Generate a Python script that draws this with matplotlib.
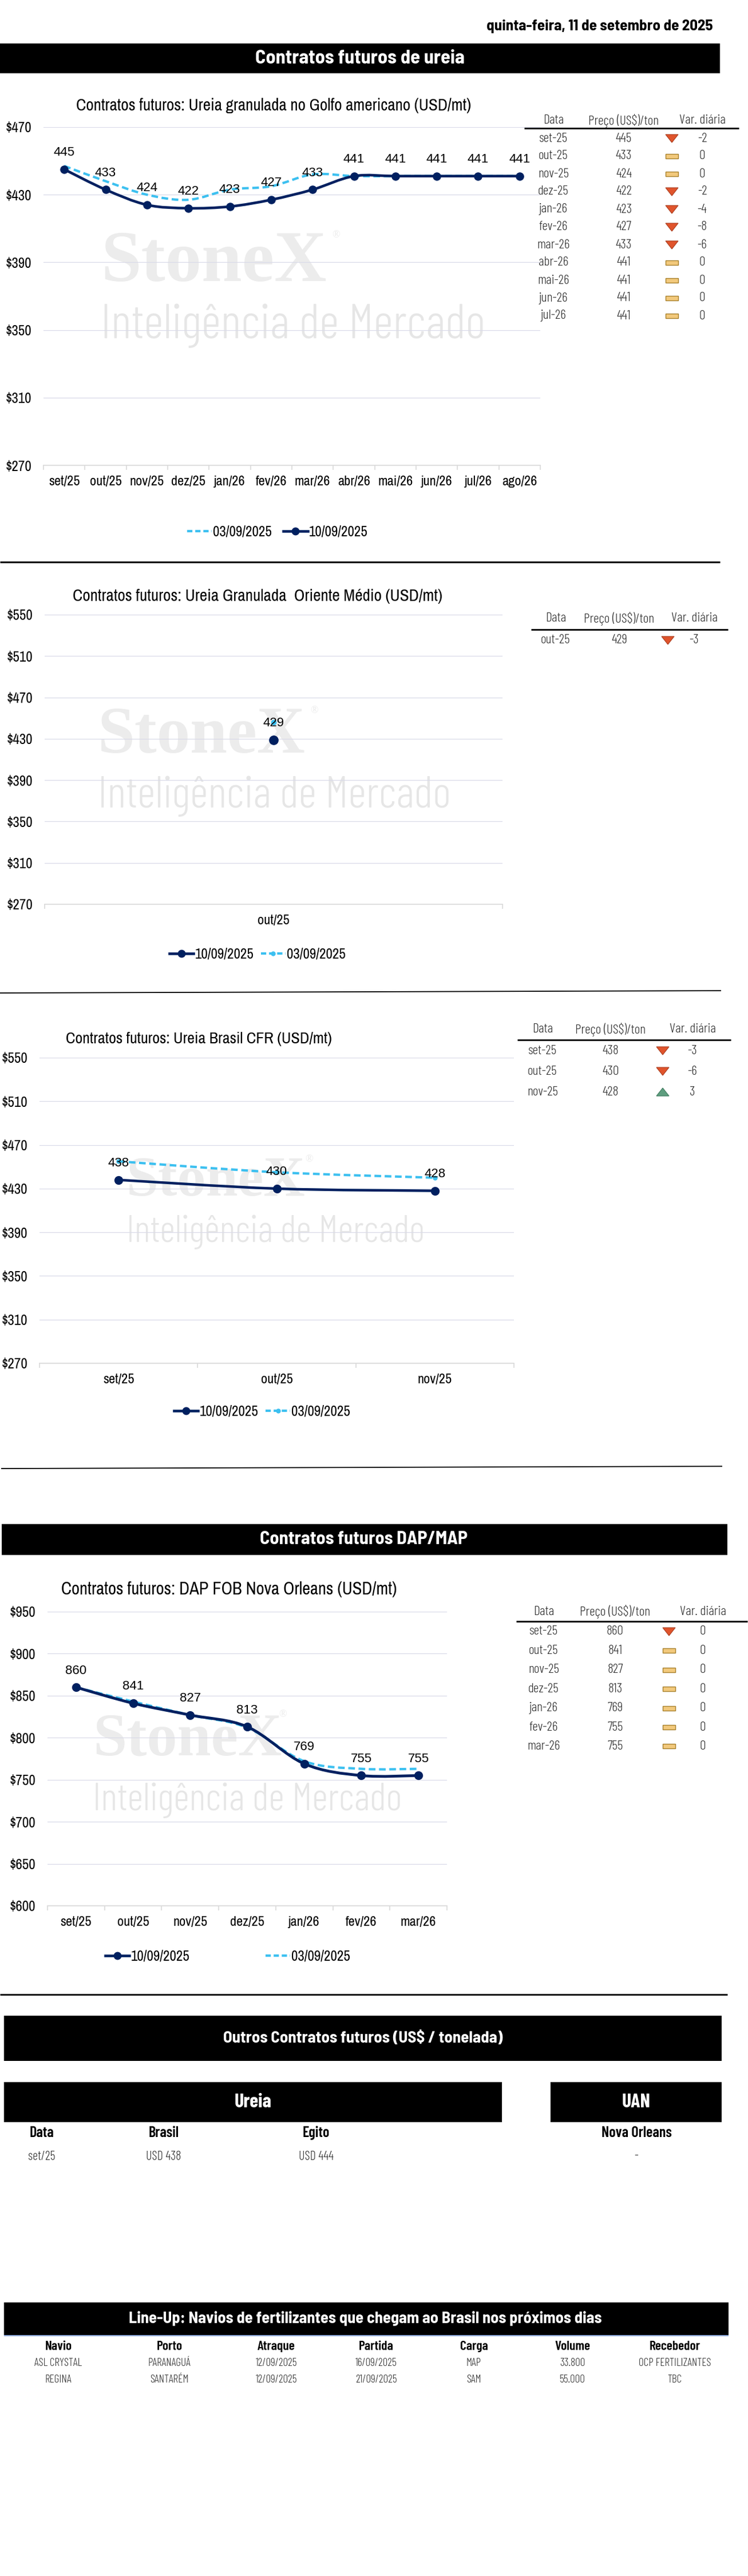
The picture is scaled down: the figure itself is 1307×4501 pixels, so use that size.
import numpy as np
import matplotlib
matplotlib.use('Agg')
import matplotlib.pyplot as plt
from matplotlib.path import Path
from matplotlib.patches import PathPatch, Rectangle, Polygon
from matplotlib.lines import Line2D
from matplotlib.ticker import FuncFormatter
from matplotlib import font_manager as fm

# ---------------- DATA ----------------
date_text = 'quinta-feira, 11 de setembro de 2025'

golfo_cats = ['set/25', 'out/25', 'nov/25', 'dez/25', 'jan/26', 'fev/26',
              'mar/26', 'abr/26', 'mai/26', 'jun/26', 'jul/26', 'ago/26']
golfo_1009 = [445, 433, 424, 422, 423, 427, 433, 441, 441, 441, 441, 441]
golfo_0309 = [447, 438, 430, 427, 433, 435, 442, 441, 441, 441, 441, 441]
golfo_tab_dates = ['set-25', 'out-25', 'nov-25', 'dez-25', 'jan-26', 'fev-26',
                   'mar-26', 'abr-26', 'mai-26', 'jun-26', 'jul-26']
golfo_tab_price = [445, 433, 424, 422, 423, 427, 433, 441, 441, 441, 441]
golfo_tab_var = [-2, 0, 0, -2, -4, -8, -6, 0, 0, 0, 0]
golfo_tab_icon = ['down', 'flat', 'flat', 'down', 'down', 'down', 'down',
                  'flat', 'flat', 'flat', 'flat']

om_cats = ['out/25']
om_1009 = [429]
om_0309 = [446]
om_tab_dates = ['out-25']
om_tab_price = [429]
om_tab_var = [-3]
om_tab_icon = ['down']

br_cats = ['set/25', 'out/25', 'nov/25']
br_1009 = [438, 430, 428]
br_0309 = [455, 445, 440]
br_tab_dates = ['set-25', 'out-25', 'nov-25']
br_tab_price = [438, 430, 428]
br_tab_var = [-3, -6, 3]
br_tab_icon = ['down', 'down', 'up']

dap_cats = ['set/25', 'out/25', 'nov/25', 'dez/25', 'jan/26', 'fev/26', 'mar/26']
dap_1009 = [860, 841, 827, 813, 769, 755, 755]
dap_0309 = [860, 843, 827, 812, 772, 763, 763]
dap_tab_dates = ['set-25', 'out-25', 'nov-25', 'dez-25', 'jan-26', 'fev-26', 'mar-26']
dap_tab_price = [860, 841, 827, 813, 769, 755, 755]
dap_tab_var = [0, 0, 0, 0, 0, 0, 0]
dap_tab_icon = ['down', 'flat', 'flat', 'flat', 'flat', 'flat', 'flat']

outros_headers = ['Data', 'Brasil', 'Egito']
outros_row = ['set/25', 'USD 438', 'USD 444']
uan_header = 'Nova Orleans'
uan_value = '-'

lineup_headers = ['Navio', 'Porto', 'Atraque', 'Partida', 'Carga', 'Volume', 'Recebedor']
lineup_rows = [
    ['ASL CRYSTAL', 'PARANAGUÁ', '12/09/2025', '16/09/2025', 'MAP', '33.800', 'OCP FERTILIZANTES'],
    ['REGINA', 'SANTARÉM', '12/09/2025', '21/09/2025', 'SAM', '55.000', 'TBC'],
]

# ---------------- FONTS / STYLE ----------------
W, H, DPI = 1307, 4501, 100
names = {f.name for f in fm.fontManager.ttflist}


def pick(*cands):
    for c in cands:
        if c in names:
            return c
    return 'Liberation Sans'


NARROW = pick('Archivo Narrow', 'Liberation Sans Narrow', 'Barlow Semi Condensed')
COND = pick('Barlow Condensed', 'Asap Condensed', 'Archivo Narrow')
SEMI = pick('Barlow Semi Condensed', 'Asap Condensed', 'Barlow Condensed')
REG = 'Liberation Sans'
SERIF = 'Liberation Serif'
plt.rcParams['font.family'] = [NARROW, 'DejaVu Sans']

NAVY = '#002060'
CYAN = '#3CC0F0'
GRID = '#D9DAE8'
WM = '#ECECEC'
WM2 = '#E6E6E6'
TXT = '#333333'
TICK_FS = 17.5
LEG_FS = 18

fig = plt.figure(figsize=(W / DPI, H / DPI), dpi=DPI)
page = fig.add_axes([0, 0, 1, 1], zorder=0)
page.set_xlim(0, W)
page.set_ylim(H, 0)
page.axis('off')
renderer = fig.canvas.get_renderer()


def fit_text(x0, x1, y, s, family, weight='normal', color='black', va='center', base=40):
    t = page.text(x0, y, s, fontsize=base, family=[family, 'DejaVu Sans'], fontweight=weight,
                  color=color, ha='left', va=va)
    w = t.get_window_extent(renderer=renderer).width
    t.set_fontsize(base * (x1 - x0) / w)
    return t


def ptext(x, y, s, fs, family, weight='normal', color=TXT, ha='center'):
    return page.text(x, y, s, fontsize=fs, family=[family, 'DejaVu Sans'], fontweight=weight,
                     color=color, ha=ha, va='center')


def hline(x0, x1, y0, y1, lw, color='black'):
    page.plot([x0, x1], [y0, y1], color=color, lw=lw, solid_capstyle='butt')


def banner(x0, x1, y0, y1):
    page.add_patch(Rectangle((x0, y0), x1 - x0, y1 - y0, facecolor='black', lw=0))


def watermark(x0, x1, base_stone, x2, base_int, reg_xy):
    fit_text(x0, x1, base_stone, 'StoneX', SERIF, 'bold', WM, va='baseline')
    page.text(reg_xy[0], reg_xy[1], '®', fontsize=13, family=SERIF, color=WM,
              ha='left', va='center')
    fit_text(x0, x2, base_int, 'Inteligência de Mercado', COND, 300, WM2, va='baseline')


def icon(kind, cx, cy, w=22, h=14):
    if kind == 'down':
        page.add_patch(Polygon([(cx - w / 2, cy - h / 2), (cx + w / 2, cy - h / 2), (cx, cy + h / 2)],
                               closed=True, facecolor='#E0542C', edgecolor='#A83C1E', lw=0.8))
    elif kind == 'up':
        page.add_patch(Polygon([(cx - w / 2, cy + h / 2), (cx + w / 2, cy + h / 2), (cx, cy - h / 2)],
                               closed=True, facecolor='#5E9E7F', edgecolor='#3E7A5E', lw=0.8))
    else:
        page.add_patch(Rectangle((cx - w / 2, cy - 4), w, 8, facecolor='#F2C97C',
                                 edgecolor='#A67F2A', lw=1.0))


def table(hdr_y, line_y, line_x, xs, row_y0, row_dy, dates, prices, vars_, icons, fs=17):
    hx = [xs[0], xs[1], xs[3]]
    for x, s in zip(hx, ['Data', 'Preço (US$)/ton', 'Var. diária']):
        ptext(x, hdr_y, s, fs, COND, 300)
    hline(line_x[0], line_x[1], line_y, line_y, 2.0)
    for i, (d, p, v, ic) in enumerate(zip(dates, prices, vars_, icons)):
        y = row_y0 + i * row_dy
        ptext(xs[0], y, d, fs, COND, 300)
        ptext(xs[1], y, f'{p}', fs, COND, 300)
        icon(ic, xs[2], y)
        ptext(xs[3], y, f'{v}', fs, COND, 300)


def make_axes(left, right, top, bottom):
    ax = fig.add_axes([left / W, 1 - bottom / H, (right - left) / W, (bottom - top) / H], zorder=2)
    ax.patch.set_alpha(0)
    return ax


def setup_axes(ax, cats, ymin, ymax, ystep):
    n = len(cats)
    ax.set_xlim(-0.5, n - 0.5)
    ax.set_ylim(ymin, ymax)
    ax.set_yticks(np.arange(ymin, ymax + 1, ystep))
    ax.yaxis.set_major_formatter(FuncFormatter(lambda v, p: f'${v:.0f}'))
    ax.set_xticks(np.arange(n))
    ax.set_xticklabels(cats)
    ax.set_xticks(np.arange(n + 1) - 0.5, minor=True)
    ax.tick_params(axis='x', which='major', length=0, pad=13, labelsize=TICK_FS, labelcolor='black')
    ax.tick_params(axis='x', which='minor', length=6, width=1.2, color='#D9D9D9', direction='out')
    ax.tick_params(axis='y', length=0, pad=15, labelsize=TICK_FS + 0.5, labelcolor='black')
    ax.grid(axis='y', color=GRID, lw=0.9)
    ax.set_axisbelow(True)
    for s in ['top', 'right', 'left']:
        ax.spines[s].set_visible(False)
    ax.spines['bottom'].set_color('#D9D9D9')
    ax.spines['bottom'].set_linewidth(1.2)


def smooth_path(xs, ys):
    pts = np.column_stack([xs, ys]).astype(float)
    n = len(pts)
    verts = [pts[0]]
    codes = [Path.MOVETO]
    for i in range(n - 1):
        p0 = pts[i - 1] if i > 0 else pts[i]
        p1, p2 = pts[i], pts[i + 1]
        p3 = pts[i + 2] if i + 2 < n else pts[i + 1]
        verts += [p1 + (p2 - p0) / 6.0, p2 - (p3 - p1) / 6.0, p2]
        codes += [Path.CURVE4] * 3
    return Path(verts, codes)


def draw_series(ax, ys, color, lw, dashed, ms, z):
    xs = np.arange(len(ys))
    if len(ys) > 1:
        ls = (0, (2.8, 1.5)) if dashed else '-'
        ax.add_patch(PathPatch(smooth_path(xs, ys), fill=False, edgecolor=color, lw=lw,
                               linestyle=ls, capstyle='butt', joinstyle='round', zorder=z))
    if ms:
        ax.plot(xs, ys, linestyle='none', marker='o', ms=ms, color=color, zorder=z + 0.1)


def labels(ax, ys):
    for i, v in enumerate(ys):
        ax.annotate(f'{v}', (i, v), xytext=(0, 21), textcoords='offset points',
                    ha='center', va='center', fontsize=16, family=REG, color='black',
                    zorder=10, annotation_clip=False)


def add_legend(ax, order, dash_marker, cx, cy, colsp):
    hs, ls = [], []
    for key in order:
        if key == '1009':
            hs.append(Line2D([], [], color=NAVY, lw=3.3, marker='o', ms=9))
            ls.append('10/09/2025')
        else:
            hs.append(Line2D([], [], color=CYAN, lw=3.0, ls=(0, (2.2, 1.2)),
                             marker='o' if dash_marker else None, ms=5))
            ls.append('03/09/2025')
    ax.legend(hs, ls, loc='center', bbox_to_anchor=(cx / W, 1 - cy / H),
              bbox_transform=fig.transFigure, ncol=2, frameon=False,
              fontsize=LEG_FS, handlelength=1.7, handletextpad=0.1,
              columnspacing=colsp, borderaxespad=0, borderpad=0)


# ---------------- HEADER ----------------
fit_text(850, 1246, 53, date_text, SEMI, 'bold', 'black', va='baseline')
banner(0, 1258, 76, 128)
fit_text(446, 812, 102, 'Contratos futuros de ureia', SEMI, 'bold', 'white')

# ---------------- CHART 1: Golfo ----------------
watermark(176, 570, 491, 848, 591, (580, 411))
fit_text(133, 825, 184, 'Contratos futuros: Ureia granulada no Golfo americano (USD/mt)', NARROW)
ax1 = make_axes(76, 944, 222, 813)
setup_axes(ax1, golfo_cats, 270, 470, 40)
draw_series(ax1, golfo_0309, CYAN, 3.0, True, 0, 3)
draw_series(ax1, golfo_1009, NAVY, 3.3, False, 9.5, 4)
labels(ax1, golfo_1009)
add_legend(ax1, ['0309', '1009'], False, 485, 929, 0.8)
table(211, 224, (916, 1291), (967, 1090, 1174, 1227), 242, 31,
      golfo_tab_dates, golfo_tab_price, golfo_tab_var, golfo_tab_icon)

hline(0, 1258, 982, 982, 2.2)

# ---------------- CHART 2: Oriente Medio ----------------
watermark(171, 533, 1315, 788, 1411, (542, 1242))
fit_text(127, 775, 1042, 'Contratos futuros: Ureia Granulada  Oriente Médio (USD/mt)', NARROW)
ax2 = make_axes(78, 878, 1074, 1580)
setup_axes(ax2, om_cats, 270, 550, 40)
draw_series(ax2, om_0309, CYAN, 3.0, True, 6, 3)
draw_series(ax2, om_1009, NAVY, 3.3, False, 11, 4)
labels(ax2, om_1009)
add_legend(ax2, ['1009', '0309'], True, 450, 1667, 0.5)
table(1081, 1100, (928, 1272), (971, 1082, 1167, 1213), 1119, 31,
      om_tab_dates, om_tab_price, om_tab_var, om_tab_icon)

hline(0, 1260, 1735, 1731, 1.3)

# ---------------- CHART 3: Brasil CFR ----------------
watermark(221, 533, 2089, 742, 2170, (533, 2026))
fit_text(115, 581, 1816, 'Contratos futuros: Ureia Brasil CFR (USD/mt)', NARROW)
ax3 = make_axes(69, 898, 1848, 2382)
setup_axes(ax3, br_cats, 270, 550, 40)
draw_series(ax3, br_0309, CYAN, 3.0, True, 5, 3)
draw_series(ax3, br_1009, NAVY, 3.2, False, 10, 4)
labels(ax3, br_1009)
add_legend(ax3, ['1009', '0309'], True, 458, 2466, 0.5)
table(1799, 1817, (904, 1277), (948, 1067, 1158, 1210), 1836, 36,
      br_tab_dates, br_tab_price, br_tab_var, br_tab_icon)

hline(2, 1262, 2566, 2562, 1.3)

# ---------------- DAP/MAP ----------------
banner(3, 1271, 2663, 2717)
fit_text(454, 817, 2690, 'Contratos futuros DAP/MAP', SEMI, 'bold', 'white')
watermark(162, 492, 3067, 702, 3163, (487, 2996))
fit_text(107, 693, 2777, 'Contratos futuros: DAP FOB Nova Orleans (USD/mt)', NARROW)
ax4 = make_axes(83, 781, 2816, 3330)
setup_axes(ax4, dap_cats, 600, 950, 50)
draw_series(ax4, dap_0309, CYAN, 3.0, True, 0, 3)
draw_series(ax4, dap_1009, NAVY, 3.5, False, 10, 4)
labels(ax4, dap_1009)
add_legend(ax4, ['1009', '0309'], False, 398, 3418, 5.3)
table(2816, 2833, (902, 1306), (950, 1075, 1169, 1228), 2851, 33.4,
      dap_tab_dates, dap_tab_price, dap_tab_var, dap_tab_icon)

hline(0, 1271, 3485, 3485, 2.0)

# ---------------- OUTROS CONTRATOS ----------------
banner(7, 1261, 3522, 3601)
fit_text(390, 879, 3561, 'Outros Contratos futuros (US$ / tonelada)', SEMI, 'bold', 'white')
banner(7, 877, 3638, 3708)
banner(962, 1261, 3638, 3708)
fit_text(410, 475, 3673, 'Ureia', COND, 'bold', 'white')
fit_text(1087, 1137, 3673, 'UAN', COND, 'bold', 'white')
for x, s in zip([73, 286, 552], outros_headers):
    ptext(x, 3727, s, 19, COND, 600, 'black')
ptext(1112, 3727, uan_header, 19, COND, 600, 'black')
for x, s in zip([73, 286, 552], outros_row):
    ptext(x, 3768, s, 16, COND, 300)
ptext(1112, 3768, uan_value, 16, COND, 300)

# ---------------- LINE-UP ----------------
banner(7, 1273, 4023, 4080)
hline(7, 1273, 4081, 4081, 1.5, '#8EA9DB')
fit_text(225, 1054, 4051, 'Line-Up: Navios de fertilizantes que chegam ao Brasil nos próximos dias',
         SEMI, 'bold', 'white')
col_x = [102, 296, 483, 657, 828, 1000, 1179]
for x, s in zip(col_x, lineup_headers):
    ptext(x, 4100, s, 17, COND, 600, 'black')
for r, row in enumerate(lineup_rows):
    for x, s in zip(col_x, row):
        ptext(x, 4129 + r * 29, s, 14, COND, 300)

fig.savefig('out.png', dpi=DPI)
